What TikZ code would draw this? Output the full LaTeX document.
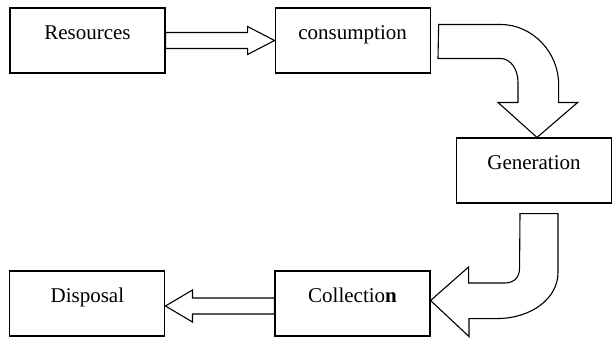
\documentclass[tikz,border=0pt]{standalone}
\usepackage{fontspec}
\setmainfont{Liberation Serif}
\usetikzlibrary{positioning,calc}

\begin{document}
\begin{tikzpicture}[
    x=1pt, y=-1pt,
    box/.style={rectangle, draw, line width=1.1pt, minimum width=155pt, minimum height=65pt,
        text height=14pt, text depth=17pt, font=\fontsize{21}{25}\selectfont},
    hollow/.style={draw, line width=1.1pt, fill=white, line join=miter}
]
    \useasboundingbox (0,0) rectangle (613,338);
    % Boxes
    \node[box] (res) at (87.5,40.5) {Resources};
    \node[box, right=109pt of res] (cons) {consumption};
    \node[box] (gen) at (534,170.5) {Generation};
    \node[box] (coll) at (352.5,303.5) {Collectio\textbf{n}};
    \node[box, left=109pt of coll] (disp) {Disposal};
    % Arrows
    \draw[hollow] ($(res.east)+(0,-8)$) -- ($(cons.west)+(-27,-8)$) -- ++(0,-6)
        -- (cons.west) -- ($(cons.west)+(-27,14)$) -- ++(0,-6) -- ($(res.east)+(0,8)$) -- cycle;
    \draw[hollow] ($(cons.east)+(8,-16)$) -- ++(62,0)
        .. controls +(32,0) and +(0,-32) .. ++(58,60) -- ++(0,18) -- ++(19,0)
        -- ($(gen.north)+(3,0)$) -- ++(-39,-35) -- ++(20,0) -- ++(0,-20)
        .. controls +(0,-13) and +(11,0) .. ++(-18,-24) -- ++(-62,0) -- cycle;
    \draw[hollow] ($(gen.south)+(-14,10)$) -- ++(38,0) -- ++(0,59)
        .. controls +(0,26) and +(34,0) .. ++(-61,46) -- ++(-28,0) -- ++(0,18)
        -- ($(coll.east)+(0,-3)$) -- ++(38,-33.5) -- ++(0,16) -- ++(36,0)
        .. controls +(10,0) and +(0,9) .. ++(15,-15) -- cycle;
    \draw[hollow] ($(coll.west)+(0,-5.5)$) -- ($(disp.east)+(27,-5.5)$) -- ++(0,-8)
        -- ($(disp.east)+(0,2.5)$) -- ($(disp.east)+(27,18.5)$) -- ++(0,-8)
        -- ($(coll.west)+(0,10.5)$) -- cycle;
\end{tikzpicture}
\end{document}
